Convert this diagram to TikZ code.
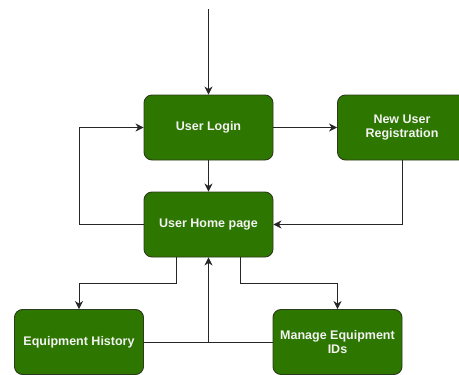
\documentclass[tikz,border=0pt]{standalone}
\usepackage{fontspec}
\setmainfont{Liberation Sans}
\usetikzlibrary{arrows.meta}
\definecolor{boxfill}{HTML}{2D7600}
\definecolor{boxline}{HTML}{2B3B1C}
\definecolor{boxtext}{HTML}{F2F2F2}
\tikzset{
  stepbox/.style={draw=boxline, line width=0.9pt, fill=boxfill, rounded corners=8pt,
    minimum width=129pt, minimum height=65pt, inner sep=0pt, align=center,
    text=boxtext, font=\fontsize{12.5}{14.5}\selectfont\bfseries},
  conn/.style={draw=black!85, line width=0.9pt},
  arr/.style={conn, -{Stealth[length=8pt,width=8pt,inset=2.5pt]}}
}
\begin{document}
\begin{tikzpicture}[x=1pt,y=-1pt]
\useasboundingbox (0,0) rectangle (459,375);
\begin{scope}
\clip (0,0) rectangle (459,375);
\node[stepbox] (login) at (208.5,127.5) {User Login};
\node[stepbox] (reg) at (402,127.5) {New User\\Registration};
\node[stepbox] (home) at (208.5,224.5) {User Home page};
\node[stepbox] (hist) at (79,342) {Equipment History};
\node[stepbox] (mgr) at (337.5,342) {Manage Equipment\\IDs};
\end{scope}
\coordinate (start) at (208.5,9);
\draw[arr] (start) -- (login.north);
\draw[arr] (login.east) -- (reg.west);
\draw[arr] (login.south) -- (home.north);
\draw[arr] (home.west) -- (79,224.5) |- (login.west);
\draw[arr] (reg.south) |- (home.east);
\draw[arr] ([xshift=-32pt]home.south) -- ++(0,26) -| (hist.north);
\draw[arr] ([xshift=32pt]home.south) -- ++(0,26) -| (mgr.north);
\draw[conn] (hist.east) -- (mgr.west);
\coordinate (mid) at (208.5,342);
\draw[arr] (mid) -- (home.south);
\end{tikzpicture}
\end{document}
